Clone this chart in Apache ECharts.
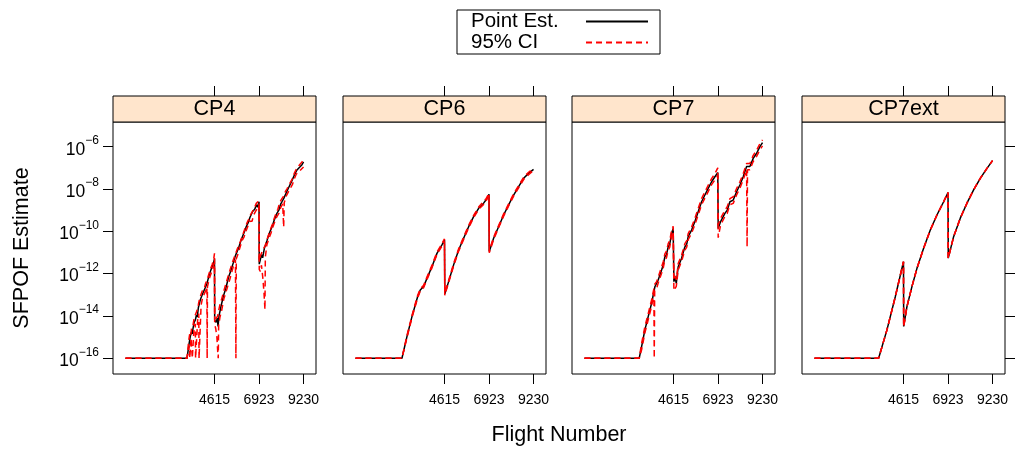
<!DOCTYPE html>
<html>
<head>
<meta charset="utf-8">
<script src="https://cdn.jsdelivr.net/npm/echarts@6/dist/echarts.min.js"></script>
<style>
  html, body { margin: 0; padding: 0; background: #ffffff; }
  #chart { width: 1015px; height: 450px; }
</style>
</head>
<body>
<div id="chart"></div>
<script>
// Panel titles (one per crack-propagation model)
const panelNames = ['CP4', 'CP6', 'CP7', 'CP7ext'];

// Axis ticks
const xTicks = [4615, 6923, 9230];
const yTicks = [1e-16, 1e-14, 1e-12, 1e-10, 1e-8, 1e-6];
const xLimits = [-645, 9876];
const yLimits = [1.81e-17, 1.47e-5];

// [flight number, SFPOF] — CP4
const cp4Est = [[0,1e-16],[3190,1e-16],[3300,5.0e-16],[3360,1.05e-15],[3420,1.78e-15],[3460,1.41e-15],[3500,2.5e-15],[3560,5.0e-15],[3620,6.3e-15],[3680,1.12e-14],[3720,8.9e-15],[3780,2.5e-14],[3880,5.8e-14],[3940,5.0e-14],[4000,1.12e-13],[4090,1.26e-13],[4140,2.2e-13],[4230,3.5e-13],[4300,6.3e-13],[4400,1.26e-12],[4480,2.0e-12],[4560,3.2e-12],[4615,5.0e-12],[4625,6.3e-15],[4700,5.0e-15],[4760,7.9e-15],[4800,3.2e-15],[4850,1e-14],[4950,2.8e-14],[5080,8.9e-14],[5200,2.0e-13],[5350,7.1e-13],[5450,1.26e-12],[5600,3.5e-12],[5700,7.1e-12],[5860,1.58e-11],[6000,4.0e-11],[6130,7.9e-11],[6250,1.58e-10],[6380,2.8e-10],[6450,4.5e-10],[6520,4.0e-10],[6600,8.9e-10],[6700,1.12e-9],[6800,1.78e-9],[6860,1.41e-9],[6923,2.5e-9],[6935,2.8e-12],[7000,5.0e-12],[7060,7.9e-12],[7110,5.6e-12],[7200,1.58e-11],[7330,3.5e-11],[7450,7.9e-11],[7590,1.58e-10],[7700,3.2e-10],[7850,7.1e-10],[7950,1e-9],[8050,2.0e-9],[8110,2.5e-9],[8200,3.5e-9],[8370,7.9e-9],[8450,1.12e-8],[8520,1.0e-8],[8630,2.5e-8],[8750,4.5e-8],[8890,7.9e-8],[8950,7.1e-8],[9050,1.12e-7],[9150,1.41e-7],[9230,1.9e-7]];
const cp4Upper = [[0,1e-16],[3190,1e-16],[3280,7.0e-16],[3330,1.4e-15],[3380,1.1e-15],[3430,2.8e-15],[3500,3.6e-15],[3560,8.0e-15],[3620,8.5e-15],[3700,1.7e-14],[3780,3.5e-14],[3850,7.0e-14],[3900,6.5e-14],[3980,1.5e-13],[4080,1.9e-13],[4150,3.4e-13],[4230,5.0e-13],[4330,1.0e-12],[4420,1.8e-12],[4500,2.8e-12],[4570,4.6e-12],[4615,9.1e-12],[4625,1.0e-14],[4700,7.5e-15],[4780,1.0e-14],[4830,1.8e-14],[4900,3.5e-14],[5000,7.0e-14],[5150,2.2e-13],[5300,6.5e-13],[5420,1.5e-12],[5550,3.6e-12],[5700,8.5e-12],[5800,1.5e-11],[5950,3.2e-11],[6080,6.8e-11],[6200,1.4e-10],[6300,2.5e-10],[6380,3.6e-10],[6460,5.5e-10],[6540,5.5e-10],[6620,1.0e-9],[6700,1.4e-9],[6780,2.1e-9],[6850,2.0e-9],[6923,2.8e-9],[6935,4.2e-12],[7000,7.0e-12],[7080,1.1e-11],[7150,1.0e-11],[7250,2.2e-11],[7350,4.5e-11],[7480,1.0e-10],[7600,2.0e-10],[7700,3.8e-10],[7820,8.0e-10],[7900,1.1e-9],[8000,2.4e-9],[8100,3.4e-9],[8200,4.6e-9],[8300,8.0e-9],[8380,1.05e-8],[8480,1.6e-8],[8560,1.5e-8],[8650,3.0e-8],[8750,5.5e-8],[8850,8.5e-8],[8950,1.0e-7],[9050,1.5e-7],[9150,1.9e-7],[9230,2.4e-7]];
const cp4Lower = [[0,1e-16],[3190,1e-16],[3320,4.0e-16],[3335,1e-16],[3400,9e-16],[3450,1.0e-15],[3465,1e-16],[3560,3.3e-15],[3620,4.2e-15],[3635,1e-16],[3740,6.0e-15],[3800,1.3e-14],[3815,1e-16],[3920,3.2e-14],[4000,7.5e-14],[4080,8.0e-14],[4150,1.5e-13],[4220,2.3e-13],[4235,1e-16],[4250,2.4e-13],[4350,6.0e-13],[4450,1.1e-12],[4540,2.0e-12],[4615,3.3e-12],[4625,4.0e-15],[4680,2.5e-15],[4740,1e-15],[4790,1.58e-16],[4810,1e-16],[4830,3.5e-15],[4900,9.0e-15],[4980,1.7e-14],[5100,6.5e-14],[5250,1.8e-13],[5400,5.0e-13],[5550,1.6e-12],[5700,4.5e-12],[5725,1e-16],[5745,5.0e-12],[5850,9.5e-12],[5950,1.9e-11],[6050,3.7e-11],[6150,5.5e-11],[6250,1.05e-10],[6350,1.8e-10],[6450,3.0e-10],[6560,3.0e-10],[6650,6.0e-10],[6750,9.0e-10],[6850,1.1e-9],[6923,1.6e-9],[6935,1.58e-12],[6990,1.26e-12],[7050,2.5e-12],[7120,6.3e-13],[7180,1.26e-13],[7230,2.0e-14],[7250,6.0e-12],[7330,2.3e-11],[7450,5.0e-11],[7550,8.5e-11],[7650,1.7e-10],[7750,3.0e-10],[7850,5.0e-10],[7950,7.0e-10],[8050,1.35e-9],[8150,2.0e-9],[8200,1.58e-10],[8230,2.3e-9],[8350,5.0e-9],[8450,7.5e-9],[8550,8.0e-9],[8650,1.6e-8],[8750,3.0e-8],[8850,5.0e-8],[8950,5.0e-8],[9050,7.5e-8],[9150,9.0e-8],[9230,1.1e-7]];

// CP6
const cp6Est = [[0,1e-16],[2410,1e-16],[2669,1.05e-15],[2929,9.3e-15],[3222,8.1e-14],[3360,1.7e-13],[3450,1.9e-13],[3533,2.45e-13],[3706,6.0e-13],[3965,2.14e-12],[4224,9.1e-12],[4483,2.3e-11],[4615,3.9e-11],[4630,1.1e-13],[4829,4.2e-13],[5088,2.6e-12],[5348,1.32e-11],[5607,4.7e-11],[5866,1.66e-10],[6125,5.0e-10],[6384,1.23e-9],[6643,2.14e-9],[6780,3.2e-9],[6923,5.6e-9],[6935,1.1e-11],[7161,4.7e-11],[7420,1.66e-10],[7680,5.9e-10],[7939,1.78e-9],[8198,5.2e-9],[8457,1.29e-8],[8716,3.2e-8],[8975,5.5e-8],[9230,8.5e-8]];
const cp6Upper = [[0,1e-16],[2410,1e-16],[2669,1.2e-15],[2929,1.05e-14],[3222,9.3e-14],[3360,1.95e-13],[3450,2.3e-13],[3533,2.8e-13],[3706,7.0e-13],[3965,2.45e-12],[4224,1.05e-11],[4483,2.6e-11],[4615,4.4e-11],[4630,1.25e-13],[4829,4.8e-13],[5088,3.0e-12],[5348,1.5e-11],[5607,5.4e-11],[5866,1.9e-10],[6125,5.7e-10],[6384,1.4e-9],[6643,2.6e-9],[6780,3.6e-9],[6923,6.3e-9],[6935,1.25e-11],[7161,5.3e-11],[7420,1.9e-10],[7680,6.7e-10],[7939,2.0e-9],[8198,5.9e-9],[8457,1.46e-8],[8716,3.6e-8],[8975,6.2e-8],[9230,9.6e-8]];
const cp6Lower = [[0,1e-16],[2410,1e-16],[2669,9.2e-16],[2929,8.2e-15],[3222,7.1e-14],[3360,1.5e-13],[3450,1.65e-13],[3533,2.15e-13],[3706,5.3e-13],[3965,1.88e-12],[4224,8.0e-12],[4483,2.0e-11],[4615,3.4e-11],[4630,9.6e-14],[4829,3.7e-13],[5088,2.3e-12],[5348,1.16e-11],[5607,4.1e-11],[5866,1.46e-10],[6125,4.4e-10],[6384,1.08e-9],[6643,1.88e-9],[6780,2.8e-9],[6923,4.9e-9],[6935,9.6e-12],[7161,4.1e-11],[7420,1.46e-10],[7680,5.2e-10],[7939,1.57e-9],[8198,4.6e-9],[8457,1.13e-8],[8716,2.8e-8],[8975,4.8e-8],[9230,7.5e-8]];

// CP7
const cp7Est = [[0,1e-16],[2837,1e-16],[2962,3.55e-16],[3133,2.2e-15],[3304,9.3e-15],[3480,4.0e-14],[3651,2.4e-13],[3740,2.8e-13],[3822,5.0e-13],[3998,1.48e-12],[4080,2.5e-12],[4169,6.3e-12],[4250,7.9e-12],[4340,1.86e-11],[4420,2.5e-11],[4516,8.1e-11],[4599,1.38e-10],[4615,1.45e-10],[4636,4.2e-13],[4700,6.3e-13],[4760,3.5e-13],[4859,2.14e-12],[5035,5.4e-12],[5206,1.86e-11],[5300,2.5e-11],[5377,5.6e-11],[5553,1.15e-10],[5724,2.9e-10],[5895,8.5e-10],[6071,2.5e-9],[6242,5.2e-9],[6413,1.07e-8],[6500,1.26e-8],[6590,2.2e-8],[6761,3.8e-8],[6850,4.0e-8],[6910,6.0e-8],[6932,1.38e-10],[7056,2.9e-10],[7279,7.1e-10],[7400,1e-9],[7538,2.5e-9],[7711,3.0e-9],[7885,7.4e-9],[8057,1.55e-8],[8228,3.8e-8],[8404,1.15e-7],[8575,1.15e-7],[8747,2.8e-7],[8923,4.9e-7],[9094,1e-6],[9230,1.55e-6]];
const cp7Upper = [[0,1e-16],[2837,1e-16],[2962,5.0e-16],[3133,3.2e-15],[3304,1.3e-14],[3480,5.8e-14],[3651,3.3e-13],[3740,4.2e-13],[3822,7.0e-13],[3998,2.1e-12],[4080,3.6e-12],[4169,8.5e-12],[4250,1.15e-11],[4340,2.6e-11],[4420,3.6e-11],[4516,1.1e-10],[4599,1.75e-10],[4615,1.78e-10],[4636,6.0e-13],[4700,9.5e-13],[4760,5.0e-13],[4859,3.0e-12],[5035,7.5e-12],[5206,2.6e-11],[5300,3.6e-11],[5377,7.8e-11],[5553,1.6e-10],[5724,4.1e-10],[5895,1.2e-9],[6071,3.5e-9],[6242,7.3e-9],[6413,1.5e-8],[6500,1.8e-8],[6590,3.1e-8],[6761,5.3e-8],[6850,5.8e-8],[6910,1.0e-7],[6932,2.0e-10],[7056,4.1e-10],[7279,1.0e-9],[7400,1.45e-9],[7538,3.5e-9],[7711,4.3e-9],[7885,1.05e-8],[8057,2.2e-8],[8228,5.3e-8],[8404,1.6e-7],[8575,1.6e-7],[8747,3.9e-7],[8923,6.8e-7],[9094,1.4e-6],[9230,2.1e-6]];
const cp7Lower = [[0,1e-16],[2837,1e-16],[2962,2.5e-16],[3133,1.6e-15],[3304,6.6e-15],[3480,2.9e-14],[3600,1.3e-13],[3617,1e-16],[3640,1.6e-13],[3740,2.0e-13],[3822,3.6e-13],[3998,1.05e-12],[4080,1.8e-12],[4169,4.5e-12],[4250,5.6e-12],[4340,1.3e-11],[4420,1.8e-11],[4516,5.8e-11],[4599,1.0e-10],[4615,1.0e-10],[4636,1.6e-13],[4700,1.41e-13],[4760,2.5e-13],[4859,1.5e-12],[5035,3.9e-12],[5206,1.3e-11],[5300,1.8e-11],[5377,4.0e-11],[5553,8.2e-11],[5724,2.1e-10],[5895,6.0e-10],[6071,1.8e-9],[6242,3.7e-9],[6413,7.6e-9],[6500,9.0e-9],[6590,1.6e-8],[6761,2.7e-8],[6850,2.9e-8],[6910,4.3e-8],[6932,5.0e-11],[7056,2.0e-10],[7279,5.0e-10],[7400,7.1e-10],[7538,1.8e-9],[7711,2.1e-9],[7885,5.3e-9],[8057,1.1e-8],[8228,2.7e-8],[8404,8.2e-8],[8430,1.86e-11],[8450,8.2e-8],[8575,8.2e-8],[8747,2.0e-7],[8923,3.5e-7],[9094,7.1e-7],[9230,1.1e-6]];

// CP7ext
const cp7extEst = [[0,1e-16],[3326,1e-16],[3758,2.2e-15],[4190,8.1e-14],[4615,3.7e-12],[4625,3.2e-15],[4794,2.75e-14],[5053,2.45e-13],[5313,1.78e-12],[5658,1.58e-11],[6004,1.15e-10],[6349,5.9e-10],[6695,2.5e-9],[6923,6.8e-9],[6935,5.4e-12],[7213,5.6e-11],[7559,4.2e-10],[7904,2.14e-9],[8250,9.1e-9],[8595,3.2e-8],[8941,9.5e-8],[9230,2.2e-7]];
const cp7extUpper = [[0,1e-16],[3326,1e-16],[3758,2.2e-15],[4190,8.1e-14],[4615,3.7e-12],[4625,3.2e-15],[4794,2.75e-14],[5053,2.45e-13],[5313,1.78e-12],[5658,1.58e-11],[6004,1.15e-10],[6349,5.9e-10],[6695,2.5e-9],[6923,6.8e-9],[6935,5.4e-12],[7213,5.6e-11],[7559,4.2e-10],[7904,2.14e-9],[8250,9.1e-9],[8595,3.2e-8],[8941,9.5e-8],[9230,2.2e-7]];
const cp7extLower = [[0,1e-16],[3326,1e-16],[3758,2.2e-15],[4190,8.1e-14],[4615,3.7e-12],[4625,3.2e-15],[4794,2.75e-14],[5053,2.45e-13],[5313,1.78e-12],[5658,1.58e-11],[6004,1.15e-10],[6349,5.9e-10],[6695,2.5e-9],[6923,6.8e-9],[6935,5.4e-12],[7213,5.6e-11],[7559,4.2e-10],[7904,2.14e-9],[8250,9.1e-9],[8595,3.2e-8],[8941,9.5e-8],[9230,2.2e-7]];

const panelData = [
  { est: cp4Est, lower: cp4Lower, upper: cp4Upper },
  { est: cp6Est, lower: cp6Lower, upper: cp6Upper },
  { est: cp7Est, lower: cp7Lower, upper: cp7Upper },
  { est: cp7extEst, lower: cp7extLower, upper: cp7extUpper }
];

// Layout of the four panels
const FONT = '"Liberation Sans", Arial, Helvetica, sans-serif';
const panelLeft = [113, 343, 572, 802];
const panelTop = 122;
const panelW = 203;
const panelH = 252;
const stripH = 26;

const tickStyle = { color: '#000', width: 1 };
const grids = [], xAxes = [], yAxes = [], series = [], graphics = [];

panelNames.forEach((name, i) => {
  grids.push({
    left: panelLeft[i], top: panelTop, width: panelW, height: panelH,
    show: true, borderColor: '#000', borderWidth: 1, backgroundColor: 'transparent',
    outerBoundsMode: 'none'
  });

  // bottom axis with labels
  xAxes.push({
    gridIndex: i, type: 'value', position: 'bottom', min: xLimits[0], max: xLimits[1],
    axisLine: { show: false, onZero: false }, splitLine: { show: false },
    axisTick: { show: true, inside: false, length: 10, customValues: xTicks, lineStyle: tickStyle },
    axisLabel: {
      show: true, customValues: xTicks, color: '#000', fontSize: 14, fontFamily: FONT, margin: 19,
      formatter: v => String(v)
    }
  });
  // top axis: ticks above the strip, no labels
  xAxes.push({
    gridIndex: i, type: 'value', position: 'top', offset: stripH, min: xLimits[0], max: xLimits[1],
    axisLine: { show: false, onZero: false }, splitLine: { show: false },
    axisTick: { show: true, inside: false, length: 10, customValues: xTicks, lineStyle: tickStyle },
    axisLabel: { show: false }
  });

  const yBase = {
    gridIndex: i, type: 'log', logBase: 10, min: yLimits[0], max: yLimits[1],
    splitLine: { show: false }, minorTick: { show: false }, axisLine: { show: false, onZero: false }
  };
  if (i === 0) {
    yAxes.push(Object.assign({}, yBase, {
      position: 'left',
      axisTick: { show: true, inside: false, length: 10, customValues: yTicks, lineStyle: tickStyle },
      axisLabel: {
        show: true, customValues: yTicks, margin: 14, color: '#000', fontFamily: FONT,
        formatter: v => {
          const p = Math.round(Math.log10(v));
          return '{z| }{b|10}{s|\u2212' + (-p) + '}';
        },
        rich: {
          z: { fontSize: 1, lineHeight: 24, width: 0 },
          b: { fontSize: 17.5, lineHeight: 16, verticalAlign: 'bottom', color: '#000', fontFamily: FONT },
          s: { fontSize: 12, lineHeight: 14, verticalAlign: 'top', color: '#000', fontFamily: FONT }
        }
      }
    }));
  } else if (i === 3) {
    yAxes.push(Object.assign({}, yBase, {
      position: 'right',
      axisTick: { show: true, inside: false, length: 10, customValues: yTicks, lineStyle: tickStyle },
      axisLabel: { show: false }
    }));
  } else {
    yAxes.push(Object.assign({}, yBase, {
      axisTick: { show: false }, axisLabel: { show: false }
    }));
  }

  const d = panelData[i];
  series.push({
    name: 'Point Est.', type: 'line', xAxisIndex: 2 * i, yAxisIndex: i,
    data: d.est, symbol: 'none', showSymbol: false, silent: true,
    lineStyle: { color: '#000000', width: 1.5 }, itemStyle: { color: '#000000' }
  });
  [d.lower, d.upper].forEach(ci => {
    series.push({
      name: '95% CI', type: 'line', xAxisIndex: 2 * i, yAxisIndex: i,
      data: ci, symbol: 'none', showSymbol: false, silent: true,
      lineStyle: { color: '#ff0000', width: 1.5, type: [6, 4] }, itemStyle: { color: '#ff0000' }
    });
  });

  // strip with the panel title
  graphics.push({
    type: 'rect', silent: true,
    shape: { x: panelLeft[i], y: panelTop - stripH, width: panelW, height: stripH },
    style: { fill: '#ffe5cc', stroke: '#000', lineWidth: 1 }
  });
  graphics.push({
    type: 'text', silent: true, x: panelLeft[i] + panelW / 2, y: panelTop - stripH / 2 + 0.5,
    style: { text: name, fill: '#000', font: '21.5px ' + FONT, align: 'center', verticalAlign: 'middle' }
  });
});

// axis titles
graphics.push({
  type: 'text', silent: true, x: 559, y: 435,
  style: { text: 'Flight Number', fill: '#000', font: '21.5px ' + FONT, align: 'center', verticalAlign: 'middle' }
});
graphics.push({
  type: 'text', silent: true, x: 22, y: 248, rotation: Math.PI / 2,
  style: { text: 'SFPOF Estimate', fill: '#000', font: '21.5px ' + FONT, align: 'center', verticalAlign: 'middle' }
});

const chart = echarts.init(document.getElementById('chart'), null, { renderer: 'canvas', width: 1015, height: 450 });
chart.setOption({
  animation: false,
  backgroundColor: '#ffffff',
  textStyle: { fontFamily: FONT, color: '#000' },
  legend: {
    data: ['Point Est.', '95% CI'],
    orient: 'vertical', left: 457, top: 10,
    align: 'right', itemWidth: 62, itemHeight: 21, itemGap: 0,
    padding: [1, 11, 1, 14],
    borderColor: '#000', borderWidth: 1, backgroundColor: '#fff',
    selectedMode: false,
    itemStyle: { opacity: 0, borderWidth: 0 },
    formatter: n => '{t|' + n + '}',
    textStyle: {
      rich: { t: { width: 110, align: 'left', fontSize: 20.5, lineHeight: 21, color: '#000', fontFamily: FONT } }
    }
  },
  grid: grids,
  xAxis: xAxes,
  yAxis: yAxes,
  series: series,
  graphic: { elements: graphics }
});
</script>
</body>
</html>
